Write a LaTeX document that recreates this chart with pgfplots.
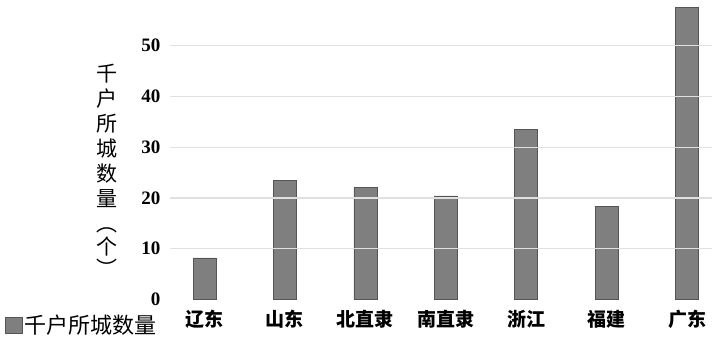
\documentclass[border=0pt]{standalone}
\usepackage{fontspec}
\setmainfont{Liberation Serif}
\newfontfamily\cjk{Noto Sans CJK SC}
\usepackage{pgfplots}
\pgfplotsset{compat=1.18}
\definecolor{barfill}{HTML}{7F7F7F}
\definecolor{baredge}{HTML}{555555}
\definecolor{gridc}{HTML}{E0E0E0}
\begin{document}
\begin{tikzpicture}
\useasboundingbox (-170pt,-41.5pt) rectangle (547pt,299.5pt);
\begin{axis}[
  at={(0pt,0pt)}, anchor=south west,
  scale only axis,
  width=542pt, height=299.5pt,
  xmin=-0.43, xmax=6.31,
  ymin=0, ymax=59,
  axis lines=left,
  axis line style={draw=none},
  axis on top,
  xtick=data,
  xticklabels={辽东,山东,北直隶,南直隶,浙江,福建,广东},
  xticklabel style={font=\cjk\bfseries\fontsize{19}{19}\selectfont, yshift=-7pt},
  ytick={10,20,30,40,50},
  extra y ticks={0},
  extra y tick style={grid=none},
  yticklabel style={font=\bfseries\fontsize{19}{19}\selectfont, xshift=-6pt},
  /pgf/number format/assume math mode=true,
  major tick length=0pt,
  ymajorgrids,
  grid style={gridc, line width=1.4pt},
  ylabel={\cjk\fontsize{21}{25}\selectfont\begin{tabular}{@{}c@{}}千\\户\\所\\城\\数\\量\\[0pt]︵\\[-3pt]个\\[-3pt]︶\end{tabular}},
  ylabel style={rotate=-90, at={(rel axis cs:0,0.42)}, anchor=center, xshift=-63pt},
  legend style={draw=none, fill=none, at={(-0.3044,-0.0851)}, anchor=west,
    font=\cjk\fontsize{22}{22}\selectfont, inner sep=0pt},
  legend image code/.code={\draw[fill=barfill, draw=baredge] (0pt,-8pt) rectangle (17pt,8pt);},
]
\addplot[ybar, bar width=23pt, fill=barfill, draw=baredge, line width=0.6pt]
  coordinates {(0,8.2) (1,23.5) (2,22.1) (3,20.4) (4,33.5) (5,18.4) (6,57.6)};
\addlegendentry{千户所城数量}
\end{axis}
\end{tikzpicture}
\end{document}
